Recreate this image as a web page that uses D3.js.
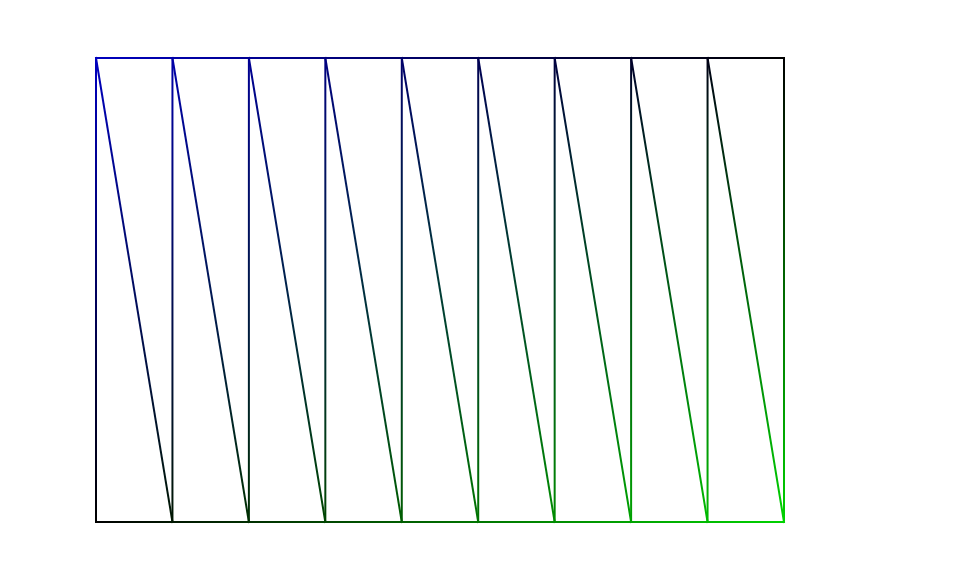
<!DOCTYPE html>
<html>
<head>
<meta charset="utf-8">
<script src="https://cdn.jsdelivr.net/npm/d3@7"></script>
<style>
  html, body { margin: 0; padding: 0; background: #fff; }
</style>
</head>
<body>
<div id="chart"></div>
<script>
// mesh columns (x positions in data units) and the two rows
const columns = [0, 1, 2, 3, 4, 5, 6, 7, 8, 9];
const rows = [0, 1];
// vertex colours: blue channel on the top row, green channel on the bottom row
const topBlue = [190, 169, 148, 127, 106, 84, 63, 42, 21, 0];
const bottomGreen = [0, 23, 47, 70, 93, 117, 140, 163, 187, 210];

const dims = {width: 957, height: 582};
const margin = {top: 58, right: 173, bottom: 60, left: 96};

const svg = d3.select('#chart')
  .append('svg')
  .attr('width', dims.width)
  .attr('height', dims.height);

const x = d3.scaleLinear()
  .domain(d3.extent(columns))
  .range([margin.left, dims.width - margin.right]);

const y = d3.scaleLinear()
  .domain(d3.extent(rows))
  .range([dims.height - margin.bottom, margin.top]);

// vertex: row 1 = top, row 0 = bottom
const vertex = (i, r) => ({
  x: x(columns[i]),
  y: y(r),
  color: r === 1 ? d3.rgb(0, 0, topBlue[i]) : d3.rgb(0, bottomGreen[i], 0)
});

const edges = [];
columns.forEach((c, i) => {
  edges.push([vertex(i, 1), vertex(i, 0)]);           // vertical
  if (i < columns.length - 1) {
    edges.push([vertex(i, 1), vertex(i + 1, 1)]);     // top
    edges.push([vertex(i, 0), vertex(i + 1, 0)]);     // bottom
    edges.push([vertex(i, 1), vertex(i + 1, 0)]);     // diagonal
  }
});

const defs = svg.append('defs');

edges.forEach((e, k) => {
  const g = defs.append('linearGradient')
    .attr('id', `edge-${k}`)
    .attr('gradientUnits', 'userSpaceOnUse')
    .attr('x1', e[0].x).attr('y1', e[0].y)
    .attr('x2', e[1].x).attr('y2', e[1].y);
  g.append('stop').attr('offset', 0).attr('stop-color', e[0].color);
  g.append('stop').attr('offset', 1).attr('stop-color', e[1].color);
});

const line = d3.line().x(d => d.x).y(d => d.y);

svg.append('g')
  .selectAll('path')
  .data(edges)
  .enter()
  .append('path')
    .attr('d', d => line(d))
    .attr('fill', 'none')
    .attr('stroke', (d, k) => `url(#edge-${k})`)
    .attr('stroke-width', 2)
    .attr('stroke-linecap', 'square');
</script>
</body>
</html>
